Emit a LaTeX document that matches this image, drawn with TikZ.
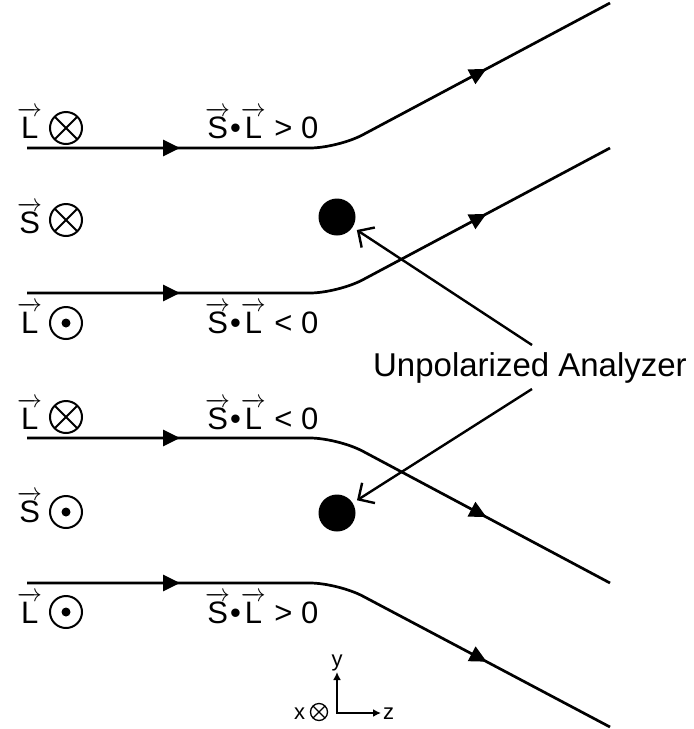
\documentclass[tikz,border=0pt]{standalone}
\usepackage{amsmath}
\usepackage{fontspec}
\setmainfont{Liberation Sans}
\usetikzlibrary{arrows.meta,decorations.markings}
\newcommand\vS{$\overrightarrow{\text{S}}$}
\newcommand\vL{$\overrightarrow{\text{L}}$}
\tikzset{
  lab/.style={inner sep=0pt,font=\fontsize{31}{36}\selectfont},
  biglab/.style={inner sep=0pt,font=\fontsize{33}{38}\selectfont},
  smalllab/.style={inner sep=0pt,font=\fontsize{22}{26}\selectfont},
  otimesnode/.style={circle,draw,line width=2pt,minimum size=32pt,inner sep=0pt,
    path picture={\draw[line width=2pt] (path picture bounding box.center) +(-12,-12) -- +(12,12)
      (path picture bounding box.center) +(-12,12) -- +(12,-12);}},
  odotnode/.style={circle,draw,line width=2pt,minimum size=32pt,inner sep=0pt,
    path picture={\fill (path picture bounding box.center) circle (4.5);}},
  smallotimes/.style={circle,draw,line width=1.3pt,minimum size=17pt,inner sep=0pt,
    path picture={\draw[line width=1.3pt] (path picture bounding box.center) +(-6.5,-6.5) -- +(6.5,6.5)
      (path picture bounding box.center) +(-6.5,6.5) -- +(6.5,-6.5);}},
  beam/.style={line width=2.7pt,rounded corners=28pt,postaction={decorate},
    decoration={markings,
      mark=at position 153pt with {\arrow{Triangle[length=17pt,width=16pt]}},
      mark=at position 478pt with {\arrow{Triangle[length=17pt,width=16pt]}}}},
  dotnode/.style={circle,fill,minimum size=37pt,inner sep=0pt},
  ptr/.style={line width=2.4pt,-{Straight Barb[length=12pt,width=24pt,line width=2.4pt]},shorten >=5pt},
  axis/.style={line width=2.2pt,{Latex[length=8pt,width=8pt]}-{Latex[length=8pt,width=8pt]}}
}
\begin{document}
\begin{tikzpicture}[x=1pt,y=-1pt]
\useasboundingbox (0,0) rectangle (694,729);
% beams
\coordinate (s1) at (27,148); \coordinate (c1) at (338,148); \coordinate (e1) at (610,3);
\coordinate (s2) at (27,293); \coordinate (c2) at (338,293); \coordinate (e2) at (610,148);
\coordinate (s3) at (27,438); \coordinate (c3) at (338,438); \coordinate (e3) at (610,583);
\coordinate (s4) at (27,583); \coordinate (c4) at (338,583); \coordinate (e4) at (610,727);
\draw[beam] (s1) -- (c1) -- (e1);
\draw[beam] (s2) -- (c2) -- (e2);
\draw[beam] (s3) -- (c3) -- (e3);
\draw[beam] (s4) -- (c4) -- (e4);
% left labels
\node[lab,anchor=base west] (L1) at (17,138) {\vL};
\node[otimesnode] (o1) at (66,128) {};
\node[lab,anchor=base west] (S1) at (17,233) {\vS};
\node[otimesnode] (o2) at (66,220) {};
\node[lab,anchor=base west] (L2) at (17,333) {\vL};
\node[odotnode] (o3) at (66,323) {};
\node[lab,anchor=base west] (L3) at (17,429) {\vL};
\node[otimesnode] (o4) at (66,417) {};
\node[lab,anchor=base west] (S2) at (17,522) {\vS};
\node[odotnode] (o5) at (66,512) {};
\node[lab,anchor=base west] (L4) at (17,623) {\vL};
\node[odotnode] (o6) at (66,612) {};
% middle labels
\node[lab,anchor=base west] (m1) at (205,138) {\vS\textbullet\vL{} > 0};
\node[lab,anchor=base west] (m2) at (205,333) {\vS\textbullet\vL{} < 0};
\node[lab,anchor=base west] (m3) at (205,429) {\vS\textbullet\vL{} < 0};
\node[lab,anchor=base west] (m4) at (205,623) {\vS\textbullet\vL{} > 0};
% analyzers
\node[dotnode] (d1) at (337,217) {};
\node[dotnode] (d2) at (337,513) {};
\node[biglab] (an) at (530,368) {Unpolarized Analyzer};
\coordinate (a1) at (532,345);
\coordinate (a2) at (532,389);
\draw[ptr] (a1) -- (d1);
\draw[ptr] (a2) -- (d2);
% axes
\coordinate (ax) at (337,713); \coordinate (ay) at (337,672); \coordinate (az) at (381,713);
\draw[axis] (ay) -- (ax) -- (az);
\node[smalllab,anchor=base] (ty) at (337,666) {y};
\node[smalllab,anchor=base west] (tz) at (383,719) {z};
\node[smalllab,anchor=base west] (tx) at (294,719) {x};
\node[smallotimes] (ox) at (319,712) {};
\end{tikzpicture}
\end{document}
